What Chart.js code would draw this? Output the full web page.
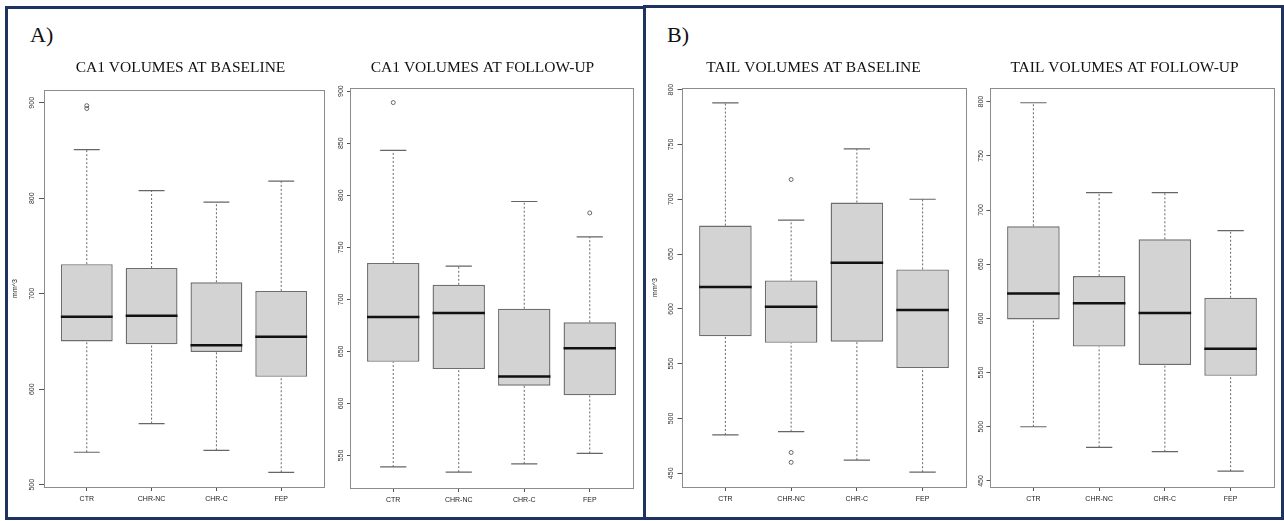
<!DOCTYPE html>
<html>
<head>
<meta charset="utf-8">
<script src="https://cdn.jsdelivr.net/npm/chart.js@4.4.1/dist/chart.umd.min.js"></script>
<style>
html, body { margin: 0; padding: 0; background: #fff; overflow: hidden; width: 1284px; height: 521px; }
.panel { position: absolute; box-sizing: border-box; border: 3px solid #1e335f; }
.tag { position: absolute; font-family: "Liberation Serif", serif; font-size: 22px; line-height: 22px; color: #111; }
canvas { position: absolute; top: 40px; }
</style>
</head>
<body>
<div class="panel" style="left:5px;top:6px;width:641px;height:514px"></div>
<div class="panel" style="left:643px;top:5px;width:641px;height:515px"></div>
<div class="tag" style="left:30px;top:24px">A)</div>
<div class="tag" style="left:667px;top:24px">B)</div>
<canvas id="c1" width="325" height="475" style="left:4px"></canvas>
<canvas id="c2" width="328" height="475" style="left:310px"></canvas>
<canvas id="c3" width="329" height="475" style="left:642px"></canvas>
<canvas id="c4" width="328" height="475" style="left:950px"></canvas>
<script>
const grupos = ["CTR", "CHR-NC", "CHR-C", "FEP"]

// cada fila: [bigote inferior, Q1, mediana, Q3, bigote superior]
const ca1Baseline = [[534, 650, 676, 731, 851], [564, 647, 677, 727, 808], [536, 639, 646, 712, 796], [513, 613, 655, 703, 818]]
const ca1Followup = [[539, 640, 683, 735, 843], [534, 633, 687, 714, 732], [542, 617, 626, 691, 794], [552, 608, 653, 678, 760]]
const tailBaseline = [[485, 575, 620, 676, 788], [488, 569, 602, 626, 681], [462, 570, 642, 697, 746], [451, 546, 599, 636, 700]]
const tailFollowup = [[500, 599, 623, 685, 799], [481, 574, 614, 639, 716], [477, 557, 605, 673, 716], [459, 547, 572, 619, 681]]

// valores atipicos: [grupo (1..4), valor]
const ca1BaselineOut = [[1, 897], [1, 894]]
const ca1FollowupOut = [[1, 889], [4, 783]]
const tailBaselineOut = [[2, 718], [2, 469], [2, 460]]
const tailFollowupOut = []

// marcas del eje y
const ca1BaselineTicks = [500, 600, 700, 800, 900]
const ca1FollowupTicks = [550, 600, 650, 700, 750, 800, 850, 900]
const tailTicks = [450, 500, 550, 600, 650, 700, 750, 800]

// marco gris alrededor del area del grafico
const marco = {
    id: "marco",
    afterLayout(chart) {
        // el titulo se centra sobre una caja angosta, pero las etiquetas del eje y necesitan 40px
        const y = chart.scales.y
        y.left = y.right - 40
    },
    afterDatasetsDraw(chart) {
        const { ctx, chartArea: a } = chart
        ctx.save()
        ctx.strokeStyle = "#8c8c8c"
        ctx.lineWidth = 1
        ctx.strokeRect(Math.round(a.left) + 0.5, Math.round(a.top) + 0.5, Math.round(a.right - a.left), Math.round(a.bottom - a.top))
        ctx.restore()
    }
}

function dibujarBoxplot(id, titulo, stats, atipicos, yMin, yMax, yTicks, lay) {
    const cajas = stats.map((s, i) => ({ x: i + 1, y: [s[1], s[3]] }))
    const medianas = []
    const bigotes = []
    const topes = []
    stats.forEach((s, i) => {
        const x = i + 1
        medianas.push({ x: x - 0.4, y: s[2] }, { x: x + 0.4, y: s[2] }, { x: x, y: null })
        bigotes.push({ x: x, y: s[3] }, { x: x, y: s[4] }, { x: x, y: null },
                     { x: x, y: s[0] }, { x: x, y: s[1] }, { x: x, y: null })
        topes.push({ x: x - 0.2, y: s[4] }, { x: x + 0.2, y: s[4] }, { x: x, y: null },
                   { x: x - 0.2, y: s[0] }, { x: x + 0.2, y: s[0] }, { x: x, y: null })
    })
    const puntos = atipicos.map(o => ({ x: o[0], y: o[1] }))

    new Chart(document.getElementById(id), {
        type: "bar",
        data: {
            datasets: [
                { type: "line", data: medianas, borderColor: "#111", borderWidth: 2.5, pointRadius: 0, fill: false },
                { type: "line", data: puntos, showLine: false, pointRadius: 2, pointBorderWidth: 1,
                  pointBorderColor: "#666", pointBackgroundColor: "rgba(0,0,0,0)" },
                { type: "line", data: topes, borderColor: "#666", borderWidth: 1.2, pointRadius: 0, fill: false },
                { type: "line", data: bigotes, borderColor: "#666", borderWidth: 1, borderDash: [2, 2], pointRadius: 0, fill: false },
                { type: "bar", data: cajas, backgroundColor: "#d3d3d3", borderColor: "#6e6e6e", borderWidth: 1.4,
                  borderSkipped: false, categoryPercentage: 0.8, barPercentage: 1 }
            ]
        },
        options: {
            responsive: false,
            animation: false,
            events: [],
            layout: { padding: { top: 0, left: lay.padLeft, bottom: 0, right: 4 } },
            plugins: {
                legend: { display: false },
                tooltip: { enabled: false },
                title: {
                    display: true,
                    text: titulo,
                    color: "#111",
                    font: { family: "Liberation Serif", size: 15.5, weight: "normal" },
                    padding: { top: 18.7, bottom: lay.titleBottom }
                }
            },
            scales: {
                x: {
                    type: "linear",
                    min: 0.34,
                    max: 4.66,
                    offset: false,
                    afterBuildTicks: s => { s.ticks = grupos.map((g, i) => ({ value: i + 1 })) },
                    afterFit: s => { s.height = lay.xH },
                    grid: { drawOnChartArea: false, offset: false, tickLength: 4, color: "#555" },
                    border: { display: false },
                    ticks: {
                        autoSkip: false, maxRotation: 0, padding: 4, color: "#222",
                        font: { family: "Liberation Sans", size: 7 },
                        callback: v => grupos[v - 1]
                    }
                },
                y: {
                    min: yMin,
                    max: yMax,
                    afterBuildTicks: s => { s.ticks = yTicks.map(v => ({ value: v })) },
                    afterFit: s => { s.width = lay.yW },
                    grid: { drawOnChartArea: false, tickLength: lay.tickLen, color: "#555" },
                    border: { display: false },
                    ticks: {
                        autoSkip: false, minRotation: 90, maxRotation: 90, crossAlign: "center",
                        padding: lay.tickPad, color: "#333",
                        font: { family: "Liberation Sans", size: 7 }
                    },
                    title: {
                        display: lay.yTitle,
                        text: "mm^3",
                        color: "#222",
                        font: { family: "Liberation Sans", size: 7 },
                        padding: { top: lay.titlePad, bottom: 0 }
                    }
                }
            }
        },
        plugins: [marco]
    })
}

dibujarBoxplot("c1", "CA1 VOLUMES AT BASELINE", ca1Baseline, ca1BaselineOut, 497.6, 913.4, ca1BaselineTicks,
    { padLeft: 32, yW: 8, titleBottom: 12.7, xH: 28, tickLen: 5, tickPad: 1.5, yTitle: true, titlePad: 6.8 })
dibujarBoxplot("c2", "CA1 VOLUMES AT FOLLOW-UP", ca1Followup, ca1FollowupOut, 518.8, 903, ca1FollowupTicks,
    { padLeft: 21, yW: 19, titleBottom: 10.7, xH: 27, tickLen: 3, tickPad: 0, yTitle: false, titlePad: 0 })
dibujarBoxplot("c3", "TAIL VOLUMES AT BASELINE", tailBaseline, tailBaselineOut, 437.5, 801.5, tailTicks,
    { padLeft: 18, yW: 22, titleBottom: 10.7, xH: 28, tickLen: 4.5, tickPad: 1, yTitle: true, titlePad: 8.8 })
dibujarBoxplot("c4", "TAIL VOLUMES AT FOLLOW-UP", tailFollowup, tailFollowupOut, 444.4, 812.6, tailTicks,
    { padLeft: 25, yW: 15, titleBottom: 10.7, xH: 28, tickLen: 3.5, tickPad: 0, yTitle: false, titlePad: 0 })
</script>
</body>
</html>
